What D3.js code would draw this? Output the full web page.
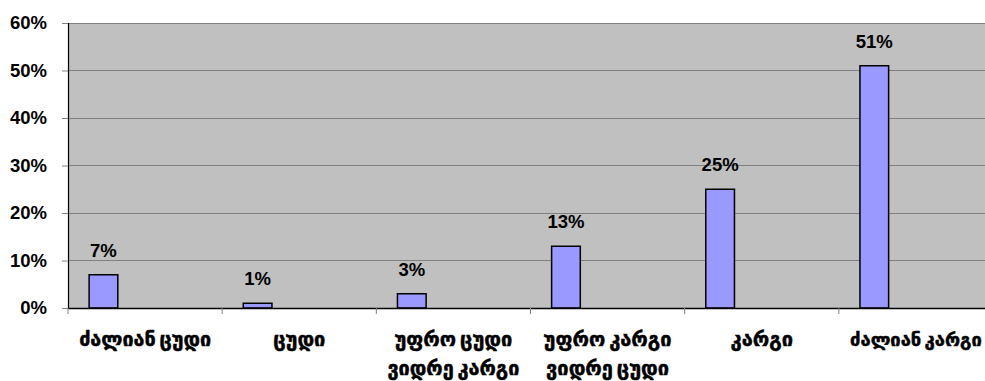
<!DOCTYPE html>
<html><head><meta charset="utf-8">
<script src="https://cdn.jsdelivr.net/npm/d3@7"></script>
<style>html,body{margin:0;padding:0;background:#fff;}svg{display:block;}</style>
</head><body>
<svg id="c" width="985" height="381"></svg>
<script>
const categories = ["ძალიან ცუდი", "ცუდი", "უფრო ცუდი\nვიდრე კარგი", "უფრო კარგი\nვიდრე ცუდი", "კარგი", "ძალიან კარგი"];
const values = [7, 1, 3, 13, 25, 51];
const yTicks = [0, 10, 20, 30, 40, 50, 60];

(function() {
const svg = d3.select("#c");
const pLeft = 68, pRight = 993, pTop = 23, pBottom = 308;
const numFont = "'Liberation Sans', Arial, sans-serif";
const geoFont = "'DejaVu Sans', sans-serif";

const x = d3.scaleBand().domain(categories).range([pLeft, pRight]).padding(0);
const y = d3.scaleLinear().domain([0, 60]).range([pBottom, pTop]);

svg.append("rect").attr("x", pLeft).attr("y", pTop).attr("width", pRight - pLeft).attr("height", pBottom - pTop).attr("fill", "#C0C0C0");

// gridlines
svg.append("g").selectAll("line").data(yTicks.filter(d => d > 0)).join("line")
  .attr("x1", pLeft).attr("x2", pRight).attr("y1", d => y(d)).attr("y2", d => y(d))
  .attr("stroke", "#808080").attr("stroke-width", 1).attr("shape-rendering", "crispEdges");

// y axis
const yAxis = svg.append("g").attr("transform", `translate(${pLeft},0)`)
  .call(d3.axisLeft(y).tickValues(yTicks).tickFormat(d => d + "%").tickSize(6).tickPadding(15));
yAxis.select(".domain").attr("stroke", "#000").attr("stroke-width", 1.2);
yAxis.selectAll(".tick line").attr("stroke", "#808080");
yAxis.selectAll("text").attr("font-family", numFont).attr("font-weight", "bold").attr("font-size", 18.5).attr("fill", "#000");

// bars
const bw = x.bandwidth();
svg.append("g").selectAll("rect").data(values).join("rect")
  .attr("x", (d, i) => x(categories[i]) + bw * 0.137)
  .attr("width", bw * 0.186)
  .attr("y", d => y(d))
  .attr("height", d => y(0) - y(d))
  .attr("fill", "#9999FF").attr("stroke", "#000").attr("stroke-width", 1.5);

// value labels
svg.append("g").selectAll("text").data(values).join("text")
  .attr("x", (d, i) => x(categories[i]) + bw * 0.137 + bw * 0.093)
  .attr("y", d => y(d) - 18)
  .attr("text-anchor", "middle")
  .attr("font-family", numFont).attr("font-weight", "bold").attr("font-size", 18.5)
  .text(d => d + "%");

// x axis
const xAxis = svg.append("g").attr("transform", `translate(0,${pBottom})`)
  .call(d3.axisBottom(x).tickSize(0).tickFormat(""));
xAxis.select(".domain").attr("stroke", "#000").attr("stroke-width", 1.5);
xAxis.selectAll(".tick").remove();
const bounds = categories.map(c => x(c)).concat([pRight]);
svg.append("g").selectAll("line").data(bounds).join("line")
  .attr("x1", d => d).attr("x2", d => d).attr("y1", pBottom).attr("y2", pBottom + 6)
  .attr("stroke", "#808080").attr("stroke-width", 1);

// category labels
const lab = svg.append("g").selectAll("text").data(categories).join("text")
  .attr("x", c => x(c) + bw / 2)
  .attr("y", 346)
  .attr("text-anchor", "middle")
  .attr("font-family", geoFont).attr("font-weight", "bold").attr("font-size", 20)
  .attr("word-spacing", -3)
  .attr("stroke", "#000").attr("stroke-width", 0.5);
lab.each(function(c) {
  const lines = c.split("\n");
  d3.select(this).selectAll("tspan").data(lines).join("tspan")
    .attr("x", x(c) + bw / 2)
    .attr("dy", (d, i) => i === 0 ? 0 : 29)
    .text(d => d)
    .each(function() {
      const w = this.getComputedTextLength();
      if (w > 132) d3.select(this).attr("font-size", 20 * 132 / w);
    });
});
})();
</script>
</body></html>
